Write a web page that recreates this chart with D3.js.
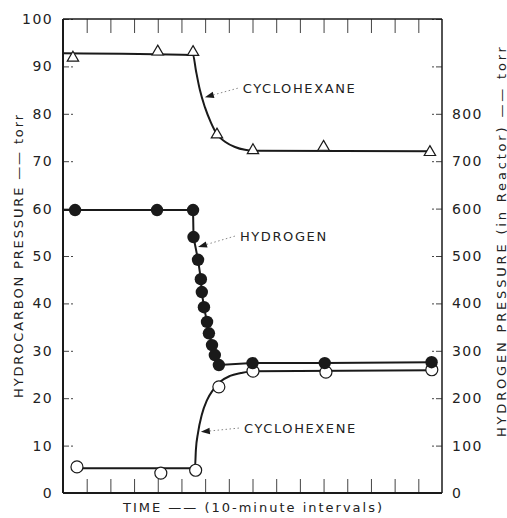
<!DOCTYPE html>
<html>
<head>
<meta charset="utf-8">
<script src="https://cdn.jsdelivr.net/npm/d3@7"></script>
<style>
body { margin: 0; background: #fff; }
svg { display: block; font-family: "DejaVu Sans", sans-serif; }
</style>
</head>
<body>
<div id="chart"></div>
<script>
// sampled points, time in 10-minute intervals
var hexaneTime = [0.42, 4.0, 5.49, 6.5, 8.02, 11.0, 15.49];
var hexanePress = [91.8, 93.1, 93.0, 75.6, 72.3, 73.0, 71.9];

var hydrogenTime = [0.51, 3.97, 5.49, 5.51, 5.7, 5.82, 5.86, 5.95, 6.08, 6.16, 6.29, 6.41, 6.58, 8.0, 11.05, 15.56];
var hydrogenPress = [597, 597, 597, 540, 492, 451, 424, 392, 361, 337, 312, 291, 270, 274, 274, 276]; // torr, right axis

var hexeneTime = [0.59, 4.13, 5.6, 6.58, 8.02, 11.1, 15.57];
var hexenePress = [5.5, 4.2, 4.8, 22.4, 25.7, 25.5, 26.0];

// hand drawn curves through the points
var hexaneCurveTime = [0, 5.49, 5.61, 5.78, 5.99, 6.25, 6.5, 6.84, 7.26, 7.68, 8.02, 15.49];
var hexaneCurvePress = [92.8, 92.4, 89.2, 85.0, 81.4, 78.1, 75.7, 74.1, 73.0, 72.4, 72.2, 72.1];
var hexeneCurveTime = [0.59, 5.57, 5.61, 5.70, 5.86, 6.08, 6.33, 6.62, 7.05, 7.51, 8.02, 15.57];
var hexeneCurvePress = [5.2, 5.2, 9.1, 12.7, 16.5, 19.6, 21.7, 23.4, 24.7, 25.3, 25.7, 25.9];

// labels with arrows
var labelNames = ["CYCLOHEXANE", "HYDROGEN", "CYCLOHEXENE"];
var labelTime = [7.59, 7.47, 7.64];
var labelPress = [85.4, 54.2, 13.7];
var arrowTime = [5.99, 5.70, 5.82];
var arrowPress = [83.5, 51.9, 12.9];

var leftTicks = d3.range(0, 101, 10);
var rightTicks = d3.range(0, 1001, 100);
var timeTicks = d3.range(1, 16);

var svgWidth = 507, svgHeight = 518;
var plotLeft = 63, plotTop = 19, plotRight = 442, plotBottom = 493;
var ink = "#1a1a1a";

var x = d3.scaleLinear().domain([0, 16]).range([plotLeft, plotRight]);
var yL = d3.scaleLinear().domain([0, 100]).range([plotBottom, plotTop]);
var yR = d3.scaleLinear().domain([0, 1000]).range([plotBottom, plotTop]);

var svg = d3.select("#chart").append("svg")
	.attr("width", svgWidth)
	.attr("height", svgHeight);

// ticks (inward)
var axL = svg.append("g").attr("transform", "translate(" + plotLeft + ",0)")
	.call(d3.axisLeft(yL).tickValues(leftTicks).tickSize(-10).tickPadding(10));
var axR = svg.append("g").attr("transform", "translate(" + plotRight + ",0)")
	.call(d3.axisRight(yR).tickValues(rightTicks).tickSize(-10).tickPadding(10)
		.tickFormat(function (d) { return d <= 800 ? d : ""; }));
var axT = svg.append("g").attr("transform", "translate(0," + plotTop + ")")
	.call(d3.axisTop(x).tickValues(timeTicks).tickSize(-14).tickFormat(""));
var axB = svg.append("g").attr("transform", "translate(0," + plotBottom + ")")
	.call(d3.axisBottom(x).tickValues(timeTicks).tickSize(-14).tickFormat(""));

[axL, axR, axT, axB].forEach(function (g) {
	g.select(".domain").remove();
	g.selectAll(".tick line").attr("stroke", "#444").attr("stroke-width", 1);
	g.selectAll(".tick text")
		.attr("fill", "#222")
		.style("font-size", "14px")
		.style("font-family", "DejaVu Sans, sans-serif")
		.style("letter-spacing", "1.4px");
});
axL.selectAll(".tick line").attr("stroke-dasharray", "6,2");
axR.selectAll(".tick line").attr("stroke-dasharray", "6,2");

// frame
svg.append("line").attr("x1", plotLeft).attr("x2", plotLeft).attr("y1", plotTop).attr("y2", plotBottom)
	.attr("stroke", ink).attr("stroke-width", 2);
svg.append("line").attr("x1", plotLeft).attr("x2", plotRight).attr("y1", plotBottom).attr("y2", plotBottom)
	.attr("stroke", ink).attr("stroke-width", 2);
svg.append("line").attr("x1", plotLeft).attr("x2", plotRight).attr("y1", plotTop).attr("y2", plotTop)
	.attr("stroke", ink).attr("stroke-width", 1.5);
svg.append("line").attr("x1", plotRight).attr("x2", plotRight).attr("y1", plotTop).attr("y2", plotBottom)
	.attr("stroke", ink).attr("stroke-width", 1.5);

// curves
var curveL = d3.line()
	.x(function (d) { return x(d[0]); })
	.y(function (d) { return yL(d[1]); })
	.curve(d3.curveMonotoneX);
var lineR = d3.line()
	.x(function (d) { return x(d[0]); })
	.y(function (d) { return yR(d[1]); });

svg.append("path")
	.attr("d", curveL(d3.zip(hexaneCurveTime, hexaneCurvePress)))
	.attr("fill", "none").attr("stroke", ink).attr("stroke-width", 2);
svg.append("path")
	.attr("d", curveL(d3.zip(hexeneCurveTime, hexeneCurvePress)))
	.attr("fill", "none").attr("stroke", ink).attr("stroke-width", 2);
svg.append("path")
	.attr("d", lineR([[0, hydrogenPress[0]]].concat(d3.zip(hydrogenTime, hydrogenPress))))
	.attr("fill", "none").attr("stroke", ink).attr("stroke-width", 2);

// markers
svg.append("g").selectAll("path")
	.data(d3.zip(hexaneTime, hexanePress))
	.enter().append("path")
		.attr("d", d3.symbol(d3.symbolTriangle, 56))
		.attr("transform", function (d) { return "translate(" + x(d[0]) + "," + yL(d[1]) + ")"; })
		.attr("fill", "#fff").attr("stroke", ink).attr("stroke-width", 1.2);

svg.append("g").selectAll("circle")
	.data(d3.zip(hexeneTime, hexenePress))
	.enter().append("circle")
		.attr("cx", function (d) { return x(d[0]); })
		.attr("cy", function (d) { return yL(d[1]); })
		.attr("r", 6)
		.attr("fill", "#fff").attr("stroke", ink).attr("stroke-width", 1.2);

svg.append("g").selectAll("circle")
	.data(d3.zip(hydrogenTime, hydrogenPress))
	.enter().append("circle")
		.attr("cx", function (d) { return x(d[0]); })
		.attr("cy", function (d) { return yR(d[1]); })
		.attr("r", 6.2)
		.attr("fill", ink);

// curve labels, dotted leaders and arrowheads
labelNames.forEach(function (name, i) {
	var lx = x(labelTime[i]), ly = yL(labelPress[i]);
	var tx = x(arrowTime[i]), ty = yL(arrowPress[i]);
	var sx = lx - 5, sy = ly;
	var a = Math.atan2(ty - sy, tx - sx);
	var len = 9, half = 3.2;
	var bx = tx - len * Math.cos(a), by = ty - len * Math.sin(a);

	svg.append("line")
		.attr("x1", sx).attr("y1", sy).attr("x2", bx).attr("y2", by)
		.attr("stroke", "#888").attr("stroke-width", 1).attr("stroke-dasharray", "1.5,2.5");
	svg.append("path")
		.attr("d", "M" + tx + "," + ty +
			"L" + (bx - half * Math.sin(a)) + "," + (by + half * Math.cos(a)) +
			"L" + (bx + half * Math.sin(a)) + "," + (by - half * Math.cos(a)) + "Z")
		.attr("fill", ink);
	svg.append("text")
		.attr("x", lx).attr("y", ly)
		.attr("dominant-baseline", "central")
		.attr("fill", "#222")
		.style("font-size", "13px")
		.style("letter-spacing", "1.6px")
		.text(name);
});

// axis titles
svg.append("text")
	.attr("transform", "translate(18," + ((115 + 398) / 2) + ") rotate(-90)")
	.attr("text-anchor", "middle").attr("dominant-baseline", "central")
	.attr("fill", "#222").style("font-size", "13px")
	.attr("textLength", 283).attr("lengthAdjust", "spacing")
	.text("HYDROCARBON PRESSURE —— torr");

svg.append("text")
	.attr("transform", "translate(501," + ((47 + 437) / 2) + ") rotate(-90)")
	.attr("text-anchor", "middle").attr("dominant-baseline", "central")
	.attr("fill", "#222").style("font-size", "13px")
	.attr("textLength", 390).attr("lengthAdjust", "spacing")
	.text("HYDROGEN PRESSURE (in Reactor) —— torr");

svg.append("text")
	.attr("x", (123 + 382) / 2).attr("y", 507)
	.attr("text-anchor", "middle").attr("dominant-baseline", "central")
	.attr("fill", "#222").style("font-size", "13px")
	.attr("textLength", 259).attr("lengthAdjust", "spacing")
	.text("TIME —— (10-minute intervals)");
</script>
</body>
</html>
